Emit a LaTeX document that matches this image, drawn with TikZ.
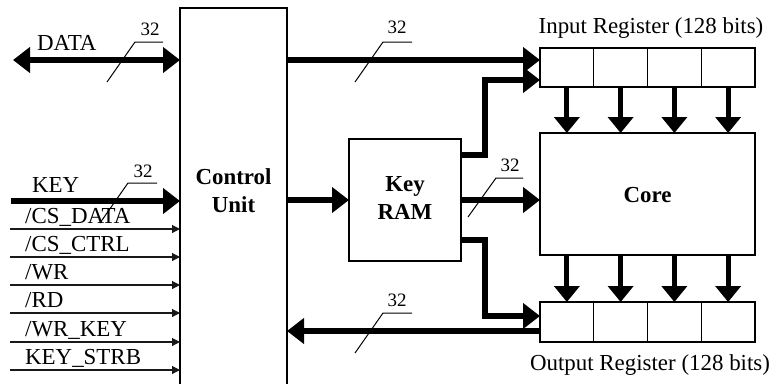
\documentclass[tikz,border=0pt]{standalone}
\usepackage{fontspec}
\setmainfont{Liberation Serif}
\usetikzlibrary{arrows.meta,calc}
\begin{document}
\begin{tikzpicture}[x=1bp,y=-1bp,
  box/.style={draw,line width=1.2bp,inner sep=0,outer sep=0},
  bus/.style={line width=6bp,-{Triangle[length=17bp,width=25bp]}},
  dbus/.style={line width=6bp,{Triangle[length=17bp,width=25bp]}-{Triangle[length=17bp,width=25bp]}},
  sig/.style={line width=1.1bp,draw=black!90,-{Triangle[length=8bp,width=8bp]}},
  vbus/.style={line width=5bp,-{Triangle[length=16bp,width=25bp]}},
  lbl/.style={font=\fontsize{23}{26}\selectfont, inner sep=0, anchor=base west},
  reglbl/.style={font=\fontsize{23}{26}\selectfont, inner sep=0, anchor=base},
  num/.style={font=\fontsize{19}{21}\selectfont, inner sep=0, anchor=base},
  btext/.style={font=\fontsize{23}{28}\selectfont\bfseries, align=center, inner sep=0},
  widthmark/.style={line width=1bp},
  cell/.style={box, minimum width=53.75bp}
]
\path[use as bounding box, clip] (0,0) rectangle (776,383);

% blocks
\node[box, minimum width=107bp, minimum height=400bp] (cu) at (233.5,208) {};
\node[btext] (cutext) at (233.5,191) {Control\\Unit};
\node[box, minimum width=112bp, minimum height=122bp] (kr) at (405,200) {};
\node[btext] (krtext) at (405,198) {Key\\RAM};
\node[box, minimum width=215bp, minimum height=122bp] (core) at (647.5,194) {};
\node[btext] (coretext) at (647.5,195) {Core};

% registers
\foreach \i in {1,2,3,4} {
  \node[cell, minimum height=39bp] (ir\i) at ({540+26.875+53.75*(\i-1)},67.5) {};
  \node[cell, minimum height=40bp] (or\i) at ({540+26.875+53.75*(\i-1)},322) {};
}
\node[reglbl] (irlbl) at (651,33) {Input Register (128 bits)};
\node[reglbl] (orlbl) at (650,370) {Output Register (128 bits)};

% DATA bus
\coordinate (dataL) at (13,60);
\draw[dbus] (dataL) -- (cu.west |- dataL);
\node[lbl] (datalbl) at (37,50) {DATA};
\draw[widthmark] (107,82) -- (135,42) -- (163,42);
\node[num] (n1) at (150,35) {32};

% KEY bus
\coordinate (keyL) at (11,201);
\draw[bus] (keyL) -- (cu.west |- keyL);
\node[lbl] (keylbl) at (32,192) {KEY};
\draw[widthmark] (100,223) -- (128,183) -- (157,183);
\node[num] (n2) at (143,177) {32};

% control signals
\foreach \y/\t/\n in {229/{/CS\_DATA}/a, 257/{/CS\_CTRL}/b, 285/{/WR}/c, 313/{/RD}/d, 342/{/WR\_KEY}/e, 370/{KEY\_STRB}/f} {
  \coordinate (s\n) at (10,\y);
  \draw[sig] (s\n) -- (cu.west |- s\n);
  \node[lbl] (l\n) at (25,\y-6) {\t};
}

% control -> input register
\coordinate (ctop) at (287,60);
\draw[bus] (ctop) -- (ir1.west |- ctop);
\draw[widthmark] (355,82) -- (383,42) -- (412,42);
\node[num] (n3) at (397,33) {32};

% key ram -> input register
\draw[bus] (kr.east |- 0,155) -- (485,155) -- (485,80) -- (ir1.west |- 0,80);

% control -> key ram
\draw[bus] (cu.east |- kr.west) -- (kr.west);
% key ram -> core
\draw[bus] (kr.east) -- (core.west |- kr.east);
\draw[widthmark] (468,217) -- (496,178) -- (523,178);
\node[num] (n4) at (510,171) {32};

% key ram -> output register
\draw[bus] (kr.east |- 0,240) -- (485,240) -- (485,316) -- (or1.west |- 0,316);

% output register -> control
\coordinate (obus) at (540,331);
\draw[bus] (obus) -- (cu.east |- obus);
\draw[widthmark] (355,353) -- (383,313) -- (412,313);
\node[num] (n5) at (397,306) {32};

% register <-> core
\foreach \i in {1,2,3,4} {
  \draw[vbus] (ir\i.south) -- (core.north -| ir\i.south);
  \draw[vbus] (core.south -| or\i.north) -- (or\i.north);
}
\end{tikzpicture}
\end{document}
